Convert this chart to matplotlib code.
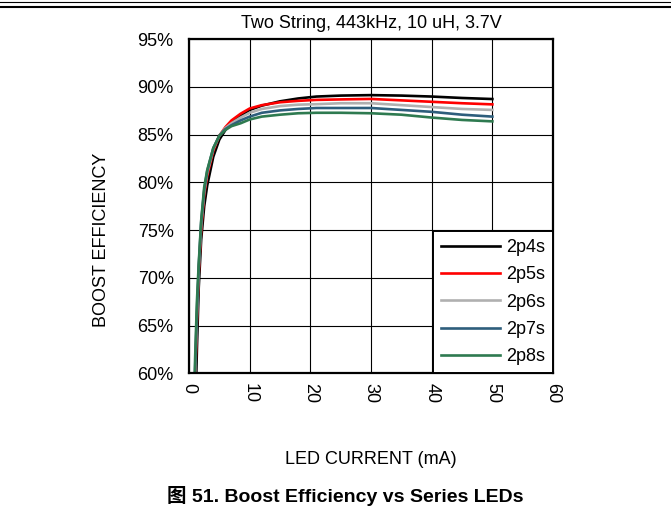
import matplotlib
matplotlib.use("Agg")
import matplotlib.pyplot as plt
from matplotlib.lines import Line2D
from matplotlib.ticker import FuncFormatter

plt.rcParams['font.family'] = ['Liberation Sans', 'Noto Sans CJK SC', 'DejaVu Sans']
plt.rcParams['font.size'] = 13

# LED current (mA)
current = [0.9, 1.0, 1.3, 1.6, 2.0, 2.5, 3.0, 4.0, 5.0, 6.0, 7.0, 8.5, 10, 12, 15,
           18, 21, 25, 30, 35, 40, 45, 50]

# boost efficiency (%)
eff_2p4s = [52.0, 55.0, 62.5, 69.0, 74.0, 77.5, 79.7, 82.7, 84.5, 85.5, 86.3, 87.0,
            87.6, 88.05, 88.5, 88.8, 89.0, 89.1, 89.15, 89.1, 89.0, 88.85, 88.74]
eff_2p5s = [56.0, 59.0, 65.5, 70.5, 75.0, 78.7, 80.7, 83.3, 84.9, 85.8, 86.5, 87.2,
            87.75, 88.1, 88.4, 88.55, 88.65, 88.7, 88.75, 88.6, 88.45, 88.3, 88.18]
eff_2p6s = [57.0, 60.0, 66.0, 71.0, 75.5, 79.0, 81.0, 83.5, 84.9, 85.7, 86.2, 86.8,
            87.3, 87.7, 88.0, 88.15, 88.2, 88.3, 88.3, 88.1, 87.9, 87.7, 87.6]
eff_2p7s = [57.5, 60.5, 66.5, 71.2, 75.8, 79.2, 81.2, 83.6, 84.9, 85.6, 86.0, 86.5,
            86.9, 87.3, 87.55, 87.7, 87.8, 87.8, 87.8, 87.6, 87.4, 87.1, 86.9]
eff_2p8s = [58.0, 61.5, 67.5, 71.5, 76.0, 79.5, 81.3, 83.6, 84.9, 85.5, 85.9, 86.2,
            86.6, 86.9, 87.1, 87.25, 87.3, 87.3, 87.25, 87.1, 86.8, 86.55, 86.4]

labels = ["2p4s", "2p5s", "2p6s", "2p7s", "2p8s"]
colors = ["#000000", "#ff0000", "#b0b0b0", "#2e5e7c", "#2e7a50"]
series = [eff_2p4s, eff_2p5s, eff_2p6s, eff_2p7s, eff_2p8s]

fig = plt.figure(figsize=(6.71, 5.29), dpi=100)
ax = fig.add_axes([0.2817, 0.294, 0.5425, 0.6318])

for s, lab, col in zip(series, labels, colors):
    ax.plot(current, s, color=col, lw=1.9, label=lab)

ax.set_xlim(0, 60)
ax.set_ylim(60, 95)
ax.set_xticks(range(0, 61, 10))
ax.set_yticks(range(60, 96, 5))
ax.yaxis.set_major_formatter(FuncFormatter(lambda v, p: f"{v:.0f}%"))
ax.tick_params(axis="y", length=0, labelsize=13, pad=11)
ax.tick_params(axis="x", length=0, labelsize=13, pad=7)
for lbl in ax.get_xticklabels():
    lbl.set_rotation(-90)
ax.grid(True, color="black", lw=0.8)
ax.set_axisbelow(True)
for sp in ax.spines.values():
    sp.set_linewidth(1.6)

# legend sits in the lower right corner, framed in black
leg = ax.legend(loc="lower right", bbox_to_anchor=(1, 0), borderaxespad=0,
                fancybox=False, edgecolor="black", framealpha=1,
                handlelength=3.3, labelspacing=0.57, handletextpad=0.3,
                borderpad=0.45, fontsize=13)
leg.get_frame().set_linewidth(1.4)

ax.set_title("Two String, 443kHz, 10 uH, 3.7V", fontsize=13, pad=8)

fig.text(102 / 671, 1 - 240 / 529, "BOOST EFFICIENCY", rotation=90,
         ha="center", va="center", fontsize=13)
fig.text(371 / 671, 1 - 459 / 529, "LED CURRENT (mA)", ha="center", va="center",
         fontsize=13)
fig.text(345 / 671, 1 - 496 / 529, "图 51. Boost Efficiency vs Series LEDs",
         ha="center", va="center", fontsize=14, fontweight="bold")

# double rule at the top of the page
fig.add_artist(Line2D([0, 1], [1 - 2 / 529, 1 - 2 / 529], color="black", lw=0.8,
                      transform=fig.transFigure))
fig.add_artist(Line2D([0, 1], [1 - 7 / 529, 1 - 7 / 529], color="black", lw=1.5,
                      transform=fig.transFigure))

fig.savefig("out.png", dpi=100)
